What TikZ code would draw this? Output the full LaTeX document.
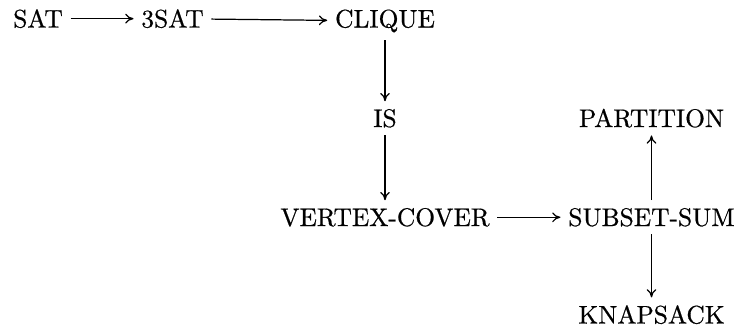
\documentclass[tikz,border=0pt]{standalone}
\usepackage{fontspec}
\usetikzlibrary{arrows.meta}
% a slightly heavier Latin Modern for the problem names
\newfontfamily\probfont{Latin Modern Roman}[FakeBold=0.6]
\begin{document}
\begin{tikzpicture}[x=0.40816pt,y=-0.40816pt,
  prob/.style={inner sep=3pt, anchor=base, font=\probfont\fontsize{10.4}{12.5}\selectfont},
  red/.style={-{To[length=3.4pt,width=4pt]}, line width=0.5pt}]
\useasboundingbox (0,0) rectangle (734,328);
% problems, placed on their baselines
\node[prob] (sat)       at (38,27.5)    {SAT};
\node[prob] (tsat)      at (172.5,27.5) {3SAT};
\node[prob] (clique)    at (385,27.5)   {CLIQUE};
\node[prob] (is)        at (385,127)    {IS};
\node[prob] (vc)        at (385,226)    {VERTEX-COVER};
\node[prob] (ss)        at (651.5,226)  {SUBSET-SUM};
\node[prob] (partition) at (651.5,127)  {PARTITION};
\node[prob] (knapsack)  at (651.5,323.5){KNAPSACK};
% reductions
\draw[red] (sat) -- (tsat);
\draw[red] (tsat) -- (clique);
\draw[red] (clique) -- (is);
\draw[red] (is) -- (vc);
\draw[red] (vc) -- (ss);
\draw[red] (ss) -- (partition);
\draw[red] (ss) -- (knapsack);
\end{tikzpicture}
\end{document}
